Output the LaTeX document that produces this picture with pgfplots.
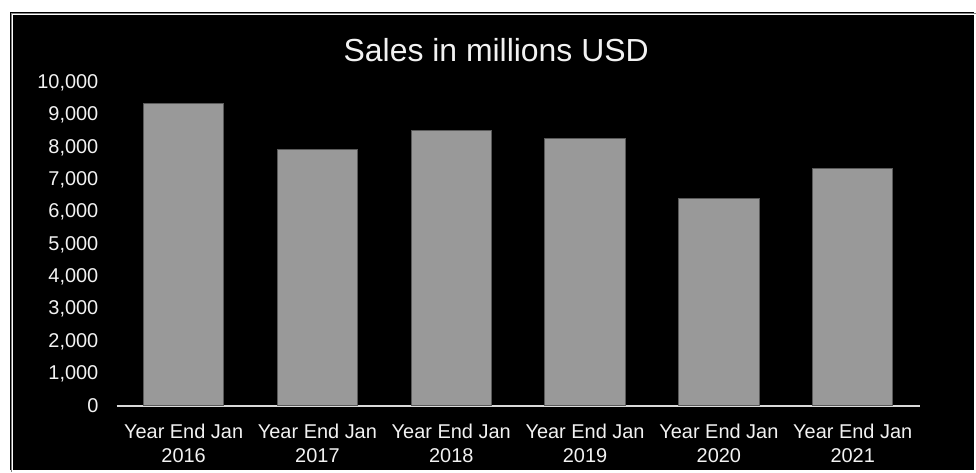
\documentclass[border=0pt]{standalone}
\usepackage{pgfplots}
\pgfplotsset{compat=1.18}
\usepackage{fontspec}
\setmainfont{Liberation Sans}
\definecolor{barfill}{HTML}{999999}
\definecolor{baredge}{HTML}{5A5A5A}
\definecolor{axisgray}{HTML}{D9D9D9}
\definecolor{txt}{HTML}{F2F2F2}
\begin{document}
\begin{tikzpicture}
% background: pixel (px,py) -> (0.5px pt, 0.5(471-py) pt)
\fill[white] (0,0) rectangle (488pt,235.5pt);
\fill[black] (4.5pt,0) rectangle (488pt,230pt);
\draw[white, line width=0.5pt] (4.75pt,-1pt) -- (4.75pt,229.75pt) -- (489pt,229.75pt);
\draw[white, line width=0.5pt] (6.25pt,-1pt) -- (6.25pt,228.25pt) -- (489pt,228.25pt);
\draw[gray, line width=0.4pt] (5.5pt,-1pt) -- (5.5pt,229pt) -- (489pt,229pt);
\begin{axis}[
  at={(58.5pt,32pt)}, anchor=south west,
  scale only axis,
  width=402.5pt, height=162pt,
  xmin=-0.5, xmax=5.5,
  ymin=0, ymax=10000,
  ytick={0,1000,...,10000},
  xtick=data,
  xticklabels={{Year End Jan\\2016},{Year End Jan\\2017},{Year End Jan\\2018},{Year End Jan\\2019},{Year End Jan\\2020},{Year End Jan\\2021}},
  axis x line*=bottom,
  axis y line*=left,
  y axis line style={draw=none},
  x axis line style={draw=axisgray, line width=0.6pt, shorten >=0pt},
  major tick length=0pt,
  ybar, bar width=0.6,
  /pgf/number format/assume math mode=true,
  /pgf/number format/1000 sep={,},
  scaled y ticks=false,
  yticklabel style={font=\fontsize{10}{12}\selectfont, text=txt, inner sep=0pt, xshift=-9pt},
  xticklabel style={font=\fontsize{10}{12}\selectfont, text=txt, align=center, inner sep=0pt, yshift=-9pt},
  clip=false,
]
\addplot[fill=barfill, draw=baredge, line width=0.5pt] coordinates {
  (0,9350) (1,7950) (2,8510) (3,8280) (4,6430) (5,7340)
};
\end{axis}
\node[text=txt, font=\fontsize{16}{19}\selectfont] at (248.75pt,210.5pt) {Sales in millions USD};
\end{tikzpicture}
\end{document}
